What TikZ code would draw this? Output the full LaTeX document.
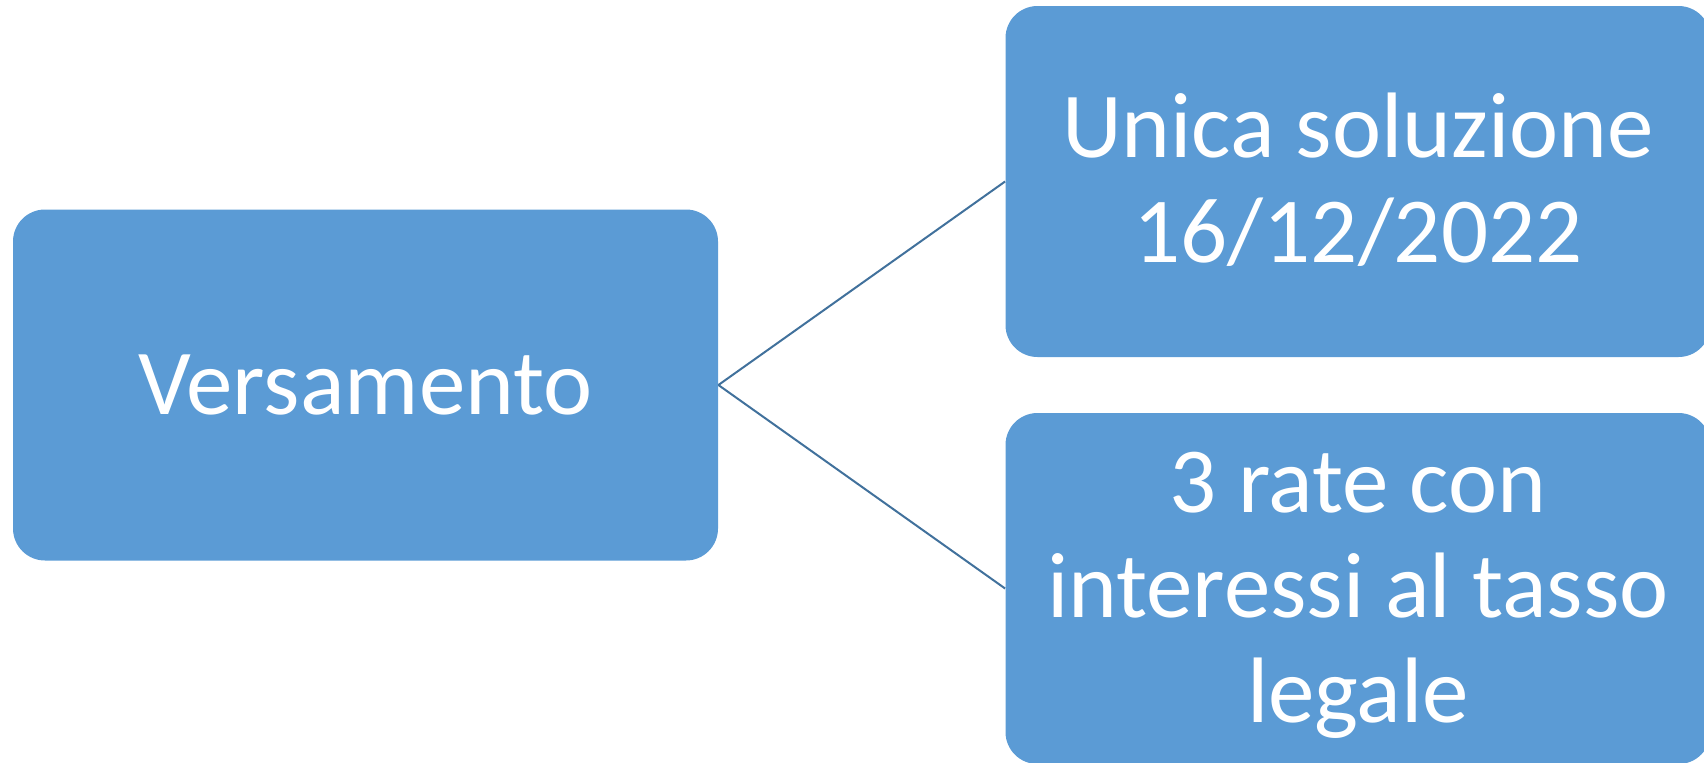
\documentclass[tikz,border=0pt]{standalone}
\usepackage{fontspec}
\setmainfont{Carlito}
\definecolor{boxblue}{HTML}{5B9BD5}
\definecolor{lineblue}{HTML}{41719C}
\tikzset{
  sbox/.style={rectangle, rounded corners=16pt, fill=boxblue, draw=none,
    minimum width=352.5pt, minimum height=175.5pt, inner sep=0pt},
  stext/.style={inner sep=0pt, text=white, align=center,
    font=\fontsize{46.5pt}{52.5pt}\selectfont},
  conn/.style={draw=lineblue, line width=1pt}
}
\begin{document}
\begin{tikzpicture}[x=0.5pt, y=-0.5pt]
\useasboundingbox (0,0) rectangle (1704,762);
\clip (0,0) rectangle (1704,762);
\node[sbox] (v) at (365.5,385) {};
\node[sbox] (u) at (1358,181.5) {};
\node[sbox] (r) at (1358,588.5) {};
\node[stext] (vt) at (v.center) {Versamento};
\node[stext] (ut) at ([yshift=1pt]u.center) {Unica soluzione\\16/12/2022};
\node[stext] (rt) at ([yshift=-3.5pt]r.center) {3 rate con\\interessi al tasso\\legale};
\draw[conn] (v.east) -- (u.west);
\draw[conn] (v.east) -- (r.west);
\end{tikzpicture}
\end{document}
